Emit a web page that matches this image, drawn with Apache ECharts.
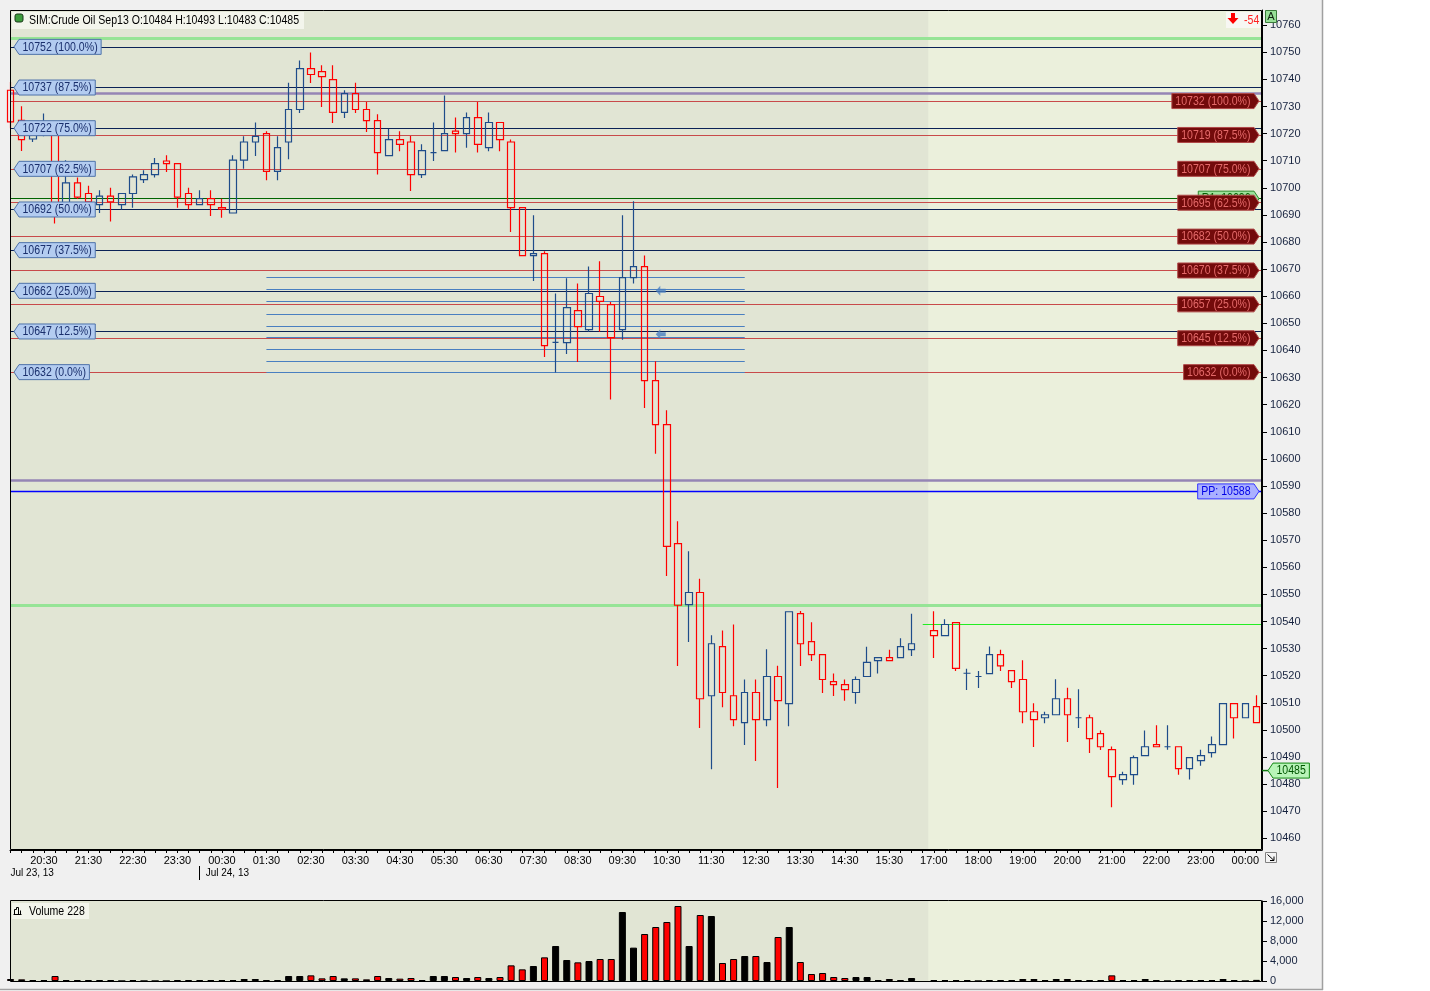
<!DOCTYPE html>
<html>
<head>
<meta charset="utf-8">
<title>SIM:Crude Oil Sep13</title>
<script src="https://cdn.jsdelivr.net/npm/echarts@6.0.0/dist/echarts.min.js"></script>
<style>
html,body{margin:0;padding:0;background:#ffffff;}
#chart{width:1430px;height:991px;}
</style>
</head>
<body>
<div id="chart"></div>
<script>
// ================= DATA =================
const opens = [10736,10724.9,10718,10720.1,10721,10693.5,10701.8,10697.9,10693.8,10696.9,
10693.8,10697.9,10703,10704.9,10709.9,10708.9,10697.9,10693.8,10696,10692.7,
10690.7,10710.2,10716.9,10720,10706.1,10716.9,10728.9,10744,10742.9,10739.9,
10727.8,10734.8,10728.9,10724.8,10711.9,10717.8,10716.9,10704.9,10713,10713.7,
10720.9,10720,10725.9,10714.8,10724.1,10716.9,10692.7,10675,10675.7,10643,
10642.9,10654.7,10647.7,10659.9,10656.9,10647.7,10666.9,10670.9,10628.9,10612.6,
10568.7,10546.2,10550.7,10512.6,10530.7,10512.6,10502.7,10513.8,10503.8,10519.7,
10509.7,10542.9,10532.6,10527.8,10517.8,10516.7,10513.8,10519.7,10525.6,10526.7,
10526.7,10529.6,null,10536.6,10534.8,10539.6,10520.9,10519.7,10520.8,10527.8,
10521.9,10518.6,10506.7,10504.5,10505.6,10511.5,10504.5,10504.5,10498.6,10492.7,
10481.7,10483.5,10490.5,10494.6,10493.8,10493.8,10485.7,10488.7,10491.6,10494.6,
10509.7,10504.5,10508.6];
const highs = [10739,10730.1,10721.2,10727.4,10723,10710.2,10703.8,10700.8,10699.1,10700,
10698,10704.9,10706.5,10711,10712,10709,10700,10699.1,10699.1,10696,
10712,10719,10724.1,10720.9,10719,10738.8,10747,10749.9,10745.2,10745.2,
10736,10738.8,10731.7,10727.1,10721.8,10720.9,10719.1,10716.1,10724.1,10734.1,
10725.9,10727.8,10731.7,10727.8,10724.2,10717.8,10692.8,10689.9,10676.6,10661,
10666.6,10664.7,10671,10672.9,10657.9,10689.9,10695,10675,10636,10617.9,
10577,10565.9,10555.8,10534.9,10536.7,10538.9,10518.6,10518.6,10529.8,10523.7,
10543.7,10543.9,10539.7,10528,10520.8,10518.6,10519.7,10530.7,10526.8,10529.6,
10533.8,10542.9,null,10543.8,10540.8,10539.7,10522.6,10521.7,10530.8,10529.6,
10522,10525.7,10509.8,10506.7,10518.7,10515.6,10515,10505.6,10499.8,10493.9,
10484.6,10490.6,10499.8,10501.7,10501.7,10493.9,10489.9,10492.7,10497.6,10509.8,
10509.8,10509.8,10512.8];
const lows = [10722,10713.6,10716.9,10719,10686.8,10692.4,10695.9,10693.5,10690.7,10687.6,
10692,10692.6,10701.8,10703.8,10705.8,10692.6,10692,10693.6,10689.6,10689,
10690.5,10707,10711.7,10702.8,10702.8,10710.5,10727.6,10738.7,10729.8,10723.9,
10725.8,10727.6,10720.6,10704.9,10711.8,10713.5,10698.8,10703.6,10709.9,10713.6,
10713,10714.8,10713,10713.5,10713.5,10683.7,10674.9,10665.6,10637.6,10631.9,
10638.7,10635.7,10646.9,10646.9,10621.9,10643.9,10664.7,10618.8,10601.9,10556.8,
10523.6,10532.4,10500.7,10485.5,10508.4,10501.4,10494.4,10488.5,10501.4,10478.6,
10501.4,10523.6,10525.4,10513.6,10512.5,10510.8,10509.7,10519.6,10520.8,10525.5,
10526.6,10527.3,null,10526.5,10534.7,10521.7,10514.7,10515.5,10520.7,10521.7,
10515.5,10502.5,10493.7,10502.5,10505.5,10495.5,10500.7,10491.5,10492.6,10471.5,
10479.8,10479.8,10490.4,10493.7,10492.7,10483.5,10481.7,10486.8,10489.8,10494.5,
10496.8,10504.4,10502.6];
const closes = [10724.3,10717.8,10719.8,10723,10693,10701.8,10696.6,10694.8,10696.9,10694.8,
10697.9,10704,10704.9,10708.9,10708.9,10696.6,10693.8,10696,10693.8,10692.1,
10710.2,10716.9,10719,10706.1,10714.8,10728.9,10744,10741.8,10741,10727.8,
10734.8,10728.9,10724.8,10713,10717.8,10716,10704.9,10713.7,10713,10720,
10720,10725.9,10716,10724.1,10717.8,10692.7,10675,10675.7,10641.8,10643,
10655.8,10648.8,10661,10658.1,10644.7,10666.9,10670.9,10628.9,10612.6,10567.7,
10546,10550.7,10511.5,10531.8,10513.8,10503.8,10513.8,10503.8,10519.7,10510.8,
10543.6,10531.8,10527.8,10518.6,10516.7,10514.9,10518.6,10524.9,10526.7,10525.6,
10530.7,10531.8,null,10534.8,10538.9,10522.7,10520.9,10519.7,10527.8,10523.6,
10517.8,10506.7,10503.8,10505.6,10511.5,10505.6,10504.5,10496.8,10493.8,10482.8,
10483.5,10489.8,10493.8,10493.8,10493.8,10485.7,10489.8,10490.5,10494.6,10509.7,
10504.5,10509.7,10502.7];
const volumes = [400,330,200,200,1000,200,200,200,200,200,
0,200,0,0,0,200,200,200,200,200,
200,400,400,200,200,1000,1000,1130,530,1000,
530,530,330,1000,600,470,600,200,1000,1000,
800,600,800,600,800,3130,2330,3000,4730,7000,
4200,3730,4000,4400,4400,13800,6670,9400,10800,11800,
15000,7000,13200,13000,3600,4400,5000,5000,3800,8800,
10800,3800,1400,1600,800,600,800,800,200,400,
200,600,null,200,200,200,200,0,200,200,
200,400,400,200,400,400,200,200,200,1130,
200,200,400,200,0,200,200,200,200,400,
200,0,228];

// sessions of 15-minute bars: [day of July, start time, number of bars]
const sessions = [[23, '19:45', 83], [24, '17:00', 30]];
const tickLabels = ['23 20:30','23 21:30','23 22:30','23 23:30','24 00:30','24 01:30','24 02:30',
  '24 03:30','24 04:30','24 05:30','24 06:30','24 07:30','24 08:30','24 09:30','24 10:30',
  '24 11:30','24 12:30','24 13:30','24 14:30','24 15:30','24 17:00','24 18:00','24 19:00',
  '24 20:00','24 21:00','24 22:00','24 23:00','25 00:00'];
const dateDays = [23, 24];
const dateLabels = ['Jul 23, 13', 'Jul 24, 13'];
const priceTicks = [10460,10470,10480,10490,10500,10510,10520,10530,10540,10550,10560,10570,
  10580,10590,10600,10610,10620,10630,10640,10650,10660,10670,10680,10690,10700,10710,10720,
  10730,10740,10750,10760];
const volumeTicks = [0, 4000, 8000, 12000, 16000];

const leftFibLevels = [10752,10737,10722,10707,10692,10677,10662,10647,10632];
const leftFibPct = ['100.0%','87.5%','75.0%','62.5%','50.0%','37.5%','25.0%','12.5%','0.0%'];
const rightFibLevels = [10732,10719.5,10707,10694.5,10682,10669.5,10657,10644.5,10632];
const rightFibShown = [10732,10719,10707,10695,10682,10670,10657,10645,10632];
const rightFibPct = ['100.0%','87.5%','75.0%','62.5%','50.0%','37.5%','25.0%','12.5%','0.0%'];
const greenBandLevels = [10755, 10546];
const purpleLevels = [10735, 10592];
const pivotPP = 10588;
const pivotR1 = 10696;
const sessionOpenPrice = 10539;
const sessionOpenFromBar = 82;
const gridLevels = [10667,10662.5,10658,10653.5,10649,10645,10640.5,10636,10632];
const gridLevelBars = [23, 66];
const arrowMarks = [[58, 10662], [58, 10646]];
const lastPrice = 10485;
const headerText = 'SIM:Crude Oil Sep13 O:10484 H:10493 L:10483 C:10485';
const volumeTitle = 'Volume 228';
const pnlText = '-54';

// ================= BUILD =================
const F = '"Liberation Sans",Arial,sans-serif';
const pad = n => (n < 10 ? '0' : '') + n;
const barTimes = [];
let sessionStartIdx = [];
sessions.forEach(([day, start, count]) => {
  sessionStartIdx.push(barTimes.length);
  const [h, m] = start.split(':').map(Number);
  for (let k = 0; k < count; k++) {
    const t = h * 60 + m + 15 * k;
    const d = day + Math.floor(t / 1440);
    const mm = t % 1440;
    const hm = pad(Math.floor(mm / 60)) + ':' + pad(mm % 60);
    barTimes.push({ day: d, hm, key: d + ' ' + hm });
  }
});
const N = barTimes.length;
const X_MIN = -0.05, X_MAX = N - 0.5;
const tickIdx = tickLabels.map(l => barTimes.findIndex(t => t.key === l));
const dateIdx = dateDays.map(d => barTimes.findIndex(t => t.day === d));
const allIdx = barTimes.map((t, i) => i);
const sessionBoundary = sessionStartIdx[1] - 0.5;

const candleData = [], volumeData = [];
for (let i = 0; i < N; i++) {
  if (opens[i] == null) continue;
  candleData.push([i, opens[i], closes[i], lows[i], highs[i]]);
  const up = closes[i] >= opens[i];
  volumeData.push({ value: [i, volumes[i]], itemStyle: { color: up ? '#000000' : '#ff0000' } });
}

const NAVY = '#0b2256', FIBRED = '#c84a4a', UP = '#1e4c8a', DOWN = '#ff0000';
const DARK_BG = '#e1e5d4', LIGHT_BG = '#ebf0dc';

const ml = [];
leftFibLevels.forEach(p => ml.push({ yAxis: p, lineStyle: { color: NAVY, width: 1, type: 'solid' } }));
greenBandLevels.forEach(p => ml.push({ yAxis: p, lineStyle: { color: '#96e496', width: 3, type: 'solid' } }));
purpleLevels.forEach(p => ml.push({ yAxis: p, lineStyle: { color: '#9585b5', width: 2.6, type: 'solid' } }));
ml.push({ yAxis: pivotPP, lineStyle: { color: '#0000ff', width: 1.3, type: 'solid' } });
ml.push({ yAxis: pivotR1, lineStyle: { color: '#006400', width: 1, type: 'solid' } });
rightFibLevels.forEach(p => ml.push({ yAxis: p, lineStyle: { color: FIBRED, width: 1, type: 'solid' } }));
ml.push([{ coord: [sessionOpenFromBar, sessionOpenPrice], lineStyle: { color: '#22ee22', width: 1, type: 'solid' } },
         { coord: [X_MAX, sessionOpenPrice] }]);
gridLevels.forEach(p => ml.push([{ coord: [gridLevelBars[0], p], lineStyle: { color: '#4a7fc0', width: 1, type: 'solid' } },
         { coord: [gridLevelBars[1], p] }]));

const GM = { left: 10, top: 10, width: 1252, height: 840 };
const GV = { left: 10, top: 901, width: 1252, height: 80 };

const chart = echarts.init(document.getElementById('chart'), null, { renderer: 'canvas' });
chart.setOption({
  animation: false,
  backgroundColor: '#f0f0f0',
  textStyle: { fontFamily: F },
  grid: [
    Object.assign({ show: true, backgroundColor: LIGHT_BG, borderWidth: 0, containLabel: false, outerBoundsMode: 'none' }, GM),
    Object.assign({ show: true, backgroundColor: LIGHT_BG, borderWidth: 0, containLabel: false, outerBoundsMode: 'none' }, GV)
  ],
  xAxis: [
    { type: 'value', gridIndex: 0, min: X_MIN, max: X_MAX, position: 'bottom',
      splitLine: { show: false },
      axisLine: { show: true, onZero: false, lineStyle: { color: '#000', width: 1 } },
      axisTick: { show: true, customValues: allIdx, length: 3, lineStyle: { color: '#000' } },
      axisLabel: { show: true, customValues: tickIdx, margin: 5, color: '#000', fontSize: 11, fontFamily: F,
        formatter: v => barTimes[Math.round(v)].hm } },
    { type: 'value', gridIndex: 0, min: X_MIN, max: X_MAX, position: 'bottom', offset: 16,
      splitLine: { show: false },
      axisLine: { show: false, onZero: false },
      axisTick: { show: true, customValues: [dateIdx[1]], length: 14, lineStyle: { color: '#000' } },
      axisLabel: { show: true, customValues: dateIdx, margin: 2, align: 'left',
        formatter: v => { const k = dateIdx.indexOf(Math.round(v)); return (k === 0 ? '{a|' : '{b|') + dateLabels[k] + '}'; },
        rich: { a: { fontSize: 10, fontFamily: F, color: '#000' },
                b: { fontSize: 10, fontFamily: F, color: '#000', padding: [0, 0, 0, 6] } } } },
    { type: 'value', gridIndex: 1, min: X_MIN, max: X_MAX, show: false, splitLine: { show: false } }
  ],
  yAxis: [
    { type: 'value', gridIndex: 0, position: 'right', min: 10455.7, max: 10765.6, scale: true,
      splitLine: { show: false },
      axisLine: { show: true, onZero: false, lineStyle: { color: '#000' } },
      axisTick: { show: true, customValues: priceTicks, length: 5, lineStyle: { color: '#000' } },
      axisLabel: { show: true, customValues: priceTicks, margin: 8, fontSize: 11, fontFamily: F,
        color: v => (v === priceTicks[0] ? '#9a9a9a' : '#17233f'),
        formatter: v => String(v) } },
    { type: 'value', gridIndex: 1, position: 'right', min: 0, max: 16000,
      splitLine: { show: false },
      axisLine: { show: true, onZero: false, lineStyle: { color: '#000' } },
      axisTick: { show: true, customValues: volumeTicks, length: 5, lineStyle: { color: '#000' } },
      axisLabel: { show: true, customValues: volumeTicks, margin: 8, fontSize: 11, fontFamily: F, color: '#17233f',
        formatter: v => Number(v).toLocaleString('en-US') } }
  ],
  series: [
    { type: 'candlestick', name: 'price', xAxisIndex: 0, yAxisIndex: 0, z: 10, silent: true,
      encode: { x: 0, y: [1, 2, 3, 4] },
      barWidth: 7,
      data: candleData,
      itemStyle: { color: 'transparent', color0: 'transparent', borderColor: UP, borderColor0: DOWN,
        borderColorDoji: UP, borderWidth: 1.2 },
      markArea: { silent: true, itemStyle: { color: DARK_BG },
        data: [[{ xAxis: X_MIN }, { xAxis: sessionBoundary }]] },
      markLine: { silent: true, symbol: ['none', 'none'], label: { show: false }, animation: false,
        emphasis: { disabled: true }, data: ml } },
    { type: 'scatter', name: 'arrows', xAxisIndex: 0, yAxisIndex: 0, z: 11, silent: true,
      symbol: 'path://M0,5L5,0L5,3L11,3L11,7L5,7L5,10Z', symbolSize: [10, 10], symbolOffset: [5, 0],
      itemStyle: { color: '#4a80c0' }, data: arrowMarks },
    { type: 'bar', name: 'volume', xAxisIndex: 2, yAxisIndex: 1, z: 10, silent: true,
      barWidth: 7, data: volumeData,
      itemStyle: { borderColor: '#000', borderWidth: 1 },
      markArea: { silent: true, itemStyle: { color: DARK_BG },
        data: [[{ xAxis: X_MIN }, { xAxis: sessionBoundary }]] } }
  ]
});

// ================= LABELS / DECORATIONS =================
const ctx = document.createElement('canvas').getContext('2d');
const FONT = '12px ' + F;
const SX = 0.88; // narrow system font look
ctx.font = FONT;
const tw = t => ctx.measureText(t).width * SX;
const yOf = p => chart.convertToPixel({ yAxisIndex: 0 }, p);
const gL = GM.left, gR = GM.left + GM.width;
const G = [];
function label(text, x, y, color, z, align) {
  G.push({ type: 'text', x, y, scaleX: SX, style: { text, fill: color, font: FONT, align: align || 'left', verticalAlign: 'middle',
    textAlign: align || 'left', textVerticalAlign: 'middle' }, z, silent: true });
}
function tag(text, y, tipX, dir, fill, stroke, color, z) {
  const w = tw(text) + 7, h = 15, d = 5;
  const s = dir === 'left' ? 1 : -1;
  const bx = tipX + s * d;
  const far = bx + s * w;
  const pts = [[tipX, y], [bx, y - h / 2], [far, y - h / 2], [far, y + h / 2], [bx, y + h / 2]];
  G.push({ type: 'polygon', shape: { points: pts }, style: { fill, stroke, lineWidth: 1 }, z: z || 100, silent: true });
  label(text, Math.min(bx, far) + 3.5, y + 0.5, color, (z || 100) + 1);
}
// outer window
G.push({ type: 'rect', shape: { x: 1323, y: 0, width: 107, height: 991 }, style: { fill: '#ffffff' }, z: 1, silent: true });
G.push({ type: 'rect', shape: { x: 0, y: 990, width: 1430, height: 1 }, style: { fill: '#ffffff' }, z: 1, silent: true });
G.push({ type: 'line', shape: { x1: 1322.5, y1: 0, x2: 1322.5, y2: 990 }, style: { stroke: '#a0a0a0', lineWidth: 1.5 }, z: 2, silent: true });
G.push({ type: 'line', shape: { x1: 0, y1: 989.5, x2: 1323, y2: 989.5 }, style: { stroke: '#a0a0a0', lineWidth: 1.5 }, z: 2, silent: true });
// frames
G.push({ type: 'rect', shape: { x: GM.left + 0.5, y: GM.top + 0.5, width: GM.width - 1, height: GM.height - 1 }, style: { fill: 'none', stroke: '#000', lineWidth: 1 }, z: 60, silent: true });
G.push({ type: 'rect', shape: { x: GV.left + 0.5, y: GV.top - 0.5, width: GV.width - 1, height: GV.height + 1 }, style: { fill: 'none', stroke: '#000', lineWidth: 1 }, z: 60, silent: true });

// left fib tags
leftFibLevels.forEach((p, i) => tag(p + ' (' + leftFibPct[i] + ')', yOf(p), gL + 4, 'left', '#b3ccf0', '#4f73aa', '#1a2f6c'));
// pivot tags
tag('R1: ' + pivotR1, yOf(pivotR1), gR - 3, 'right', '#9be29b', '#2a8a2a', '#006000', 100);
tag('PP: ' + pivotPP, yOf(pivotPP), gR - 3, 'right', '#aab0ff', '#3535ff', '#0000e6', 100);
// right fib tags
rightFibLevels.forEach((p, i) => tag(rightFibShown[i] + ' (' + rightFibPct[i] + ')', yOf(p), gR - 3, 'right', '#730b0b', '#b04848', '#e46a6a', 110));
// last price tag on the axis
const yLast = yOf(lastPrice);
G.push({ type: 'line', shape: { x1: gR, y1: yLast, x2: gR + 6, y2: yLast }, style: { stroke: '#117711', lineWidth: 1.5 }, z: 100, silent: true });
tag(String(lastPrice), yLast, gR + 6, 'left', '#b8f4b8', '#128812', '#005500', 120);

// header
G.push({ type: 'rect', shape: { x: 12, y: 12, width: 292, height: 17 }, style: { fill: '#f3f5ec' }, z: 90, silent: true });
G.push({ type: 'rect', shape: { x: 15, y: 14, width: 8, height: 8, r: 2 }, style: { fill: '#3c9c3c', stroke: '#1a3a1a', lineWidth: 1 }, z: 91, silent: true });
label(headerText, 29, 20.5, '#000', 91);
// pnl box
G.push({ type: 'rect', shape: { x: 1226, y: 12, width: 35, height: 16 }, style: { fill: '#f7f7f3' }, z: 90, silent: true });
G.push({ type: 'polygon', shape: { points: [[1231, 13], [1235, 13], [1235, 18], [1238.5, 18], [1233, 24], [1227.5, 18], [1231, 18]] }, style: { fill: '#ff0000' }, z: 91, silent: true });
label(pnlText, 1244, 20.5, '#ff2020', 91);
// "A" box
G.push({ type: 'rect', shape: { x: 1265.5, y: 10.5, width: 11, height: 12 }, style: { fill: '#98e098', stroke: '#3a7a3a', lineWidth: 1 }, z: 91, silent: true });
G.push({ type: 'text', x: 1271, y: 17, style: { text: 'A', fill: '#102010', font: '11px ' + F, align: 'center', verticalAlign: 'middle', textAlign: 'center', textVerticalAlign: 'middle' }, z: 92, silent: true });
// corner icon
G.push({ type: 'rect', shape: { x: 1265.5, y: 852.5, width: 11, height: 10 }, style: { fill: '#f4f4f4', stroke: '#808080', lineWidth: 1 }, z: 91, silent: true });
G.push({ type: 'polyline', shape: { points: [[1267.5, 854.5], [1274, 860.5]] }, style: { stroke: '#000', lineWidth: 1 }, z: 92, silent: true });
G.push({ type: 'polyline', shape: { points: [[1270, 860.5], [1274, 860.5], [1274, 856.5]] }, style: { stroke: '#000', lineWidth: 1, fill: 'none' }, z: 92, silent: true });
// volume header
G.push({ type: 'rect', shape: { x: 12, y: 903, width: 77, height: 16 }, style: { fill: '#f3f5ec' }, z: 90, silent: true });
G.push({ type: 'polyline', shape: { points: [[14.5, 914.5], [14.5, 909.5], [16.5, 909.5], [16.5, 907.5], [18.5, 907.5], [18.5, 914.5], [20.5, 914.5], [20.5, 910.5]] }, style: { stroke: '#000', lineWidth: 1, fill: 'none' }, z: 91, silent: true });
G.push({ type: 'line', shape: { x1: 13.5, y1: 914.5, x2: 21.5, y2: 914.5 }, style: { stroke: '#000', lineWidth: 1 }, z: 91, silent: true });
label(volumeTitle, 29, 911.5, '#000', 91);

chart.setOption({ graphic: G });
</script>
</body>
</html>
